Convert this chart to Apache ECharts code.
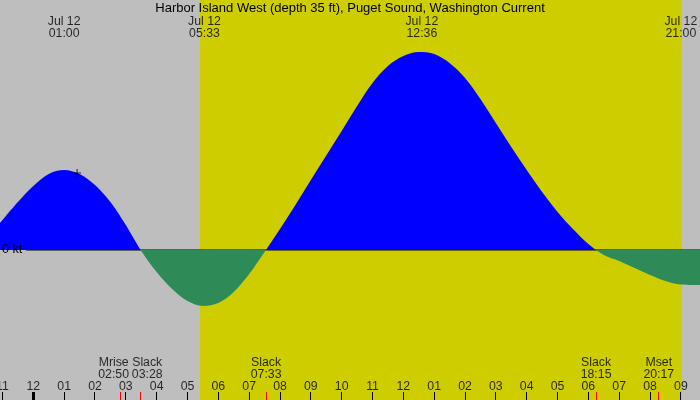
<!DOCTYPE html>
<html><head><meta charset="utf-8">
<script src="https://cdn.jsdelivr.net/npm/echarts@6/dist/echarts.min.js"></script>
<style>html,body{margin:0;padding:0;background:#bebebe}#c{width:700px;height:400px}</style>
</head><body><div id="c"></div>
<script>
// ---- data (hours after midnight Jul 12, current in kt) ----
const titleText = 'Harbor Island West (depth 35 ft), Puget Sound, Washington Current';
const timeH = [-1.08, -0.5, 0, 0.5, 1, 1.5, 2, 2.5, 3, 3.5, 4, 4.5, 5, 5.5, 6, 6.5, 7, 7.5, 8, 8.5, 9, 9.5, 10, 10.5, 11, 11.5, 12, 12.5, 13, 13.5, 14, 14.5, 15, 15.5, 16, 16.5, 17, 17.5, 18, 18.5, 19, 19.5, 20, 20.5, 21, 21.62];
const current = [0.27, 0.48, 0.64, 0.76, 0.80, 0.76, 0.65, 0.48, 0.25, -0.01, -0.22, -0.39, -0.51, -0.56, -0.53, -0.42, -0.24, -0.02, 0.21, 0.45, 0.70, 0.945, 1.19, 1.44, 1.67, 1.84, 1.94, 1.98, 1.96, 1.87, 1.72, 1.51, 1.27, 1.03, 0.80, 0.58, 0.38, 0.21, 0.06, -0.05, -0.11, -0.18, -0.25, -0.31, -0.345, -0.35];
const hourTicks = [-1, 0, 1, 2, 3, 4, 5, 6, 7, 8, 9, 10, 11, 12, 13, 14, 15, 16, 17, 18, 19, 20, 21];
const hourLabels = ['11', '12', '01', '02', '03', '04', '05', '06', '07', '08', '09', '10', '11', '12', '01', '02', '03', '04', '05', '06', '07', '08', '09'];
const maxTimes = [1.0, 5.55, 12.6, 21.0];
const maxLabels = ['Jul 12\n01:00', 'Jul 12\n05:33', 'Jul 12\n12:36', 'Jul 12\n21:00'];
const eventTimes = [2.833, 3.467, 7.55, 18.25, 20.283];
const eventLabels = ['Mrise\n02:50', 'Slack\n03:28', 'Slack\n07:33', 'Slack\n18:15', 'Mset\n20:17'];
const daylight = [5.42, 21.05];
const markerPoint = [1.42, 0.77];

// ---- layout constants ----
const X_MIN = -1.08, X_MAX = 21.62, Y_MIN = -1.5, Y_MAX = 2.5;
const TOP_LABEL_Y = 2.22, EVENT_LABEL_Y = -1.19, HOUR_LABEL_Y = -1.37;
const FONT = 'Liberation Sans';
const C_BG = '#bebebe', C_DAY = '#cdcd00', C_FLOOD = '#0000ff', C_EBB = '#2e8b57';

const curveData = timeH.map((t, i) => [t, current[i]]);
const tickData = hourTicks.map(h => [h, h === 0 ? 2 : 0]).concat(eventTimes.map(t => [t, 1]));
const eventShift = [-7, 7, 0, 0, 0];

const chart = echarts.init(document.getElementById('c'), null, {renderer: 'canvas'});
chart.setOption({
  backgroundColor: C_BG,
  animation: false,
  textStyle: {fontFamily: FONT},
  title: {text: titleText, left: 'center', top: 2, padding: 0,
    textStyle: {fontSize: 13, fontWeight: 'normal', color: '#000', fontFamily: FONT}},
  grid: {left: 0, right: 0, top: 0, bottom: 0, containLabel: false, outerBoundsMode: 'none'},
  xAxis: {type: 'value', min: X_MIN, max: X_MAX, show: true,
    axisLine: {show: false}, axisTick: {show: false}, splitLine: {show: false}, axisLabel: {show: false}},
  yAxis: {type: 'value', min: Y_MIN, max: Y_MAX, z: 10,
    axisLine: {show: false}, axisTick: {show: false}, splitLine: {show: false},
    axisLabel: {inside: true, margin: 2, customValues: [0], fontSize: 12.5, color: '#000', fontFamily: FONT,
      formatter: v => v + ' kt'}},
  visualMap: {show: false, type: 'piecewise', seriesIndex: 2, dimension: 1,
    pieces: [{gte: -10, lt: 0, color: C_EBB}, {gte: 0, lte: 10, color: C_FLOOD}]},
  series: [
    {type: 'custom', z: 0, silent: true, data: [daylight],
      renderItem: (params, api) => {
        const a = api.coord([api.value(0), Y_MAX]);
        const b = api.coord([api.value(1), Y_MIN]);
        return {type: 'rect', shape: {x: Math.round(a[0]), y: a[1], width: Math.round(b[0]) - Math.round(a[0]), height: b[1] - a[1]},
          style: {fill: C_DAY}};
      }},
    {type: 'line', z: 1, symbol: 'none', silent: true, data: [[-0.237, 0], [X_MAX, 0]],
      lineStyle: {color: '#000', width: 1}},
    {type: 'line', z: 2, symbol: 'none', smooth: 0.33, data: curveData, silent: true,
      lineStyle: {width: 0}, areaStyle: {opacity: 1, origin: 0}},
    {type: 'custom', z: 3, silent: true, data: tickData,
      renderItem: (params, api) => {
        const p = api.coord([api.value(0), Y_MIN]);
        const kind = api.value(1);
        const w = kind === 2 ? 3 : 1;
        return {type: 'rect', shape: {x: Math.round(p[0] - w / 2), y: p[1] - 8, width: w, height: 8},
          style: {fill: kind === 1 ? '#ff0000' : '#000'}};
      }},
    {type: 'scatter', z: 4, symbolSize: 0, silent: true,
      data: maxTimes.map((t, i) => ({value: [t, TOP_LABEL_Y], label: {formatter: maxLabels[i]}})),
      label: {show: true, position: 'inside', fontSize: 12.3, lineHeight: 12, color: '#000', fontFamily: FONT}},
    {type: 'scatter', z: 4, symbolSize: 0, silent: true,
      data: eventTimes.map((t, i) => ({value: [t, EVENT_LABEL_Y], label: {formatter: eventLabels[i], offset: [eventShift[i], 0]}})),
      label: {show: true, position: 'inside', fontSize: 12.3, lineHeight: 12, color: '#000', fontFamily: FONT}},
    {type: 'scatter', z: 4, symbolSize: 0, silent: true,
      data: hourTicks.map((h, i) => ({value: [h, HOUR_LABEL_Y], label: {formatter: hourLabels[i]}})),
      label: {show: true, position: 'inside', fontSize: 12.3, color: '#000', fontFamily: FONT}},
    {type: 'scatter', z: 5, silent: true, data: [markerPoint], symbolSize: 8,
      symbol: 'path://M4,0L4,8M0,4L8,4', itemStyle: {color: 'none', borderColor: '#000', borderWidth: 1}}
  ]
});
</script></body></html>
